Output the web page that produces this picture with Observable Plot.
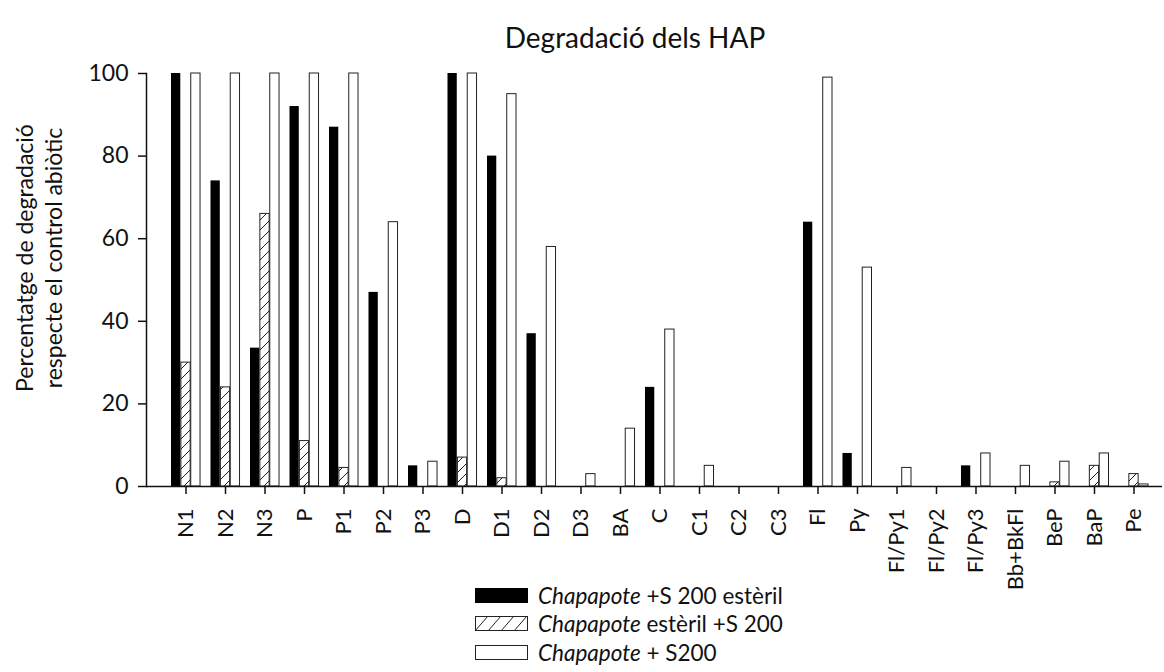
<!DOCTYPE html>
<html><head><meta charset="utf-8">
<script src="https://cdn.jsdelivr.net/npm/d3@7"></script>
<script src="https://cdn.jsdelivr.net/npm/@observablehq/plot@0.6"></script>
<style>
body{margin:0;background:#fff;font-family:Lato,sans-serif;color:#111}
#wrap{position:relative;width:1164px;height:672px;overflow:hidden}
#title{position:absolute;top:20px;left:0;width:1270px;text-align:center;font-size:28px;line-height:34px}
#chart{position:absolute;left:0;top:0}
#legend{position:absolute;left:475px;top:581px;font-size:22.5px}
.row{display:flex;align-items:center;height:28.5px;white-space:nowrap}
.row svg{margin-right:10px;display:block}
</style></head><body>
<div id="wrap"><div id="chart"></div><div id="title">Degradació dels HAP</div><div id="legend"></div></div>
<script>
// Categories (x axis)
const categories = ["N1","N2","N3","P","P1","P2","P3","D","D1","D2","D3","BA","C","C1","C2","C3","Fl","Py","Fl/Py1","Fl/Py2","Fl/Py3","Bb+BkFl","BeP","BaP","Pe"];
// Series names (legend)
const seriesNames = ["Chapapote +S 200 estèril", "Chapapote estèril +S 200", "Chapapote + S200"];
// Series values (% degradation)
const chapS200Esteril = [100,74,33.5,92,87,47,5,100,80,37,0,0,24,0,0,0,64,8,0,0,5,0,0,0,0];
const chapEsterilS200 = [30,24,66,11,4.5,0,0,7,2,0,0,0,0,0,0,0,0,0,0,0,0,0,1,5,3];
const chapS200 = [100,100,100,100,100,64,6,100,95,58,3,14,38,5,0,0,99,53,4.5,0,8,5,6,8,0.5];
const yTicks = [0,20,40,60,80,100];
const yLabel = "Percentatge de degradació\nrespecte el control abiòtic";

const seriesValues = [chapS200Esteril, chapEsterilS200, chapS200];
const rows = [];
categories.forEach((c, i) => seriesValues.forEach((vals, s) => rows.push({cat: c, s, key: c + "::" + s, v: vals[i]})));
const xDomain = categories.flatMap((c, i) => (i ? [c + "::gap"] : []).concat([c + "::0", c + "::1", c + "::2"]));

const svg = Plot.plot({
  width: 1164, height: 672,
  marginTop: 73, marginBottom: 186, marginLeft: 146, marginRight: 2,
  style: {fontFamily: "Lato, sans-serif", fontSize: "22px", color: "#111", background: "transparent"},
  x: {type: "band", domain: xDomain, paddingInner: 0.06, paddingOuter: 0, insetLeft: 25, insetRight: 14},
  y: {domain: [0, 100]},
  marks: [
    Plot.barY(rows.filter(d => d.s === 0 && d.v > 0), {x: "key", y: "v", fill: "black"}),
    Plot.barY(rows.filter(d => d.s === 1 && d.v > 0), {x: "key", y: "v", fill: "url(#hatch)", stroke: "#222", strokeWidth: 1}),
    Plot.barY(rows.filter(d => d.s === 2 && d.v > 0), {x: "key", y: "v", fill: "white", stroke: "#222", strokeWidth: 1}),
    Plot.ruleY([0], {stroke: "#111", strokeWidth: 1.5}),
    Plot.frame({anchor: "left", stroke: "#111", strokeWidth: 1.5}),
    Plot.axisY({ticks: yTicks, tickSize: 8, tickPadding: 10, fontSize: 23, label: null, stroke: "#111", strokeWidth: 1.5}),
    Plot.axisX({ticks: categories.map(c => c + "::1"), tickFormat: d => d.split("::")[0], tickSize: 8, tickPadding: 14, tickRotate: -90, fontSize: 22, label: null, stroke: "#111", strokeWidth: 1.5}),
    Plot.text([yLabel], {text: d => d, frameAnchor: "left", rotate: -90, dx: -108, dy: -22, fontSize: 23, lineHeight: 1.25, lineAnchor: "middle", textAnchor: "middle", fill: "#111"})
  ]
});
d3.select(svg).insert("defs", ":first-child").html(
  '<pattern id="hatch" patternUnits="userSpaceOnUse" width="10" height="10">' +
  '<path d="M0,10L10,0M-2,2L2,-2M8,12L12,8" stroke="#222" stroke-width="1" fill="none"/></pattern>');
document.getElementById("chart").appendChild(svg);

// Legend
const swatches = [
  '<rect x="0.5" y="0.5" width="52" height="14" fill="black" stroke="black"/>',
  '<defs><pattern id="hatchL" patternUnits="userSpaceOnUse" width="13" height="15"><path d="M0,15L13,0M-2,2L2,-2M11,17L15,13" stroke="#222" stroke-width="1" fill="none"/></pattern></defs><rect x="0.5" y="0.5" width="52" height="14" fill="url(#hatchL)" stroke="#222"/>',
  '<rect x="0.5" y="0.5" width="52" height="14" fill="white" stroke="#222"/>'
];
const legend = d3.select("#legend");
seriesNames.forEach((name, i) => {
  const row = legend.append("div").attr("class", "row");
  row.append("svg").attr("width", 53).attr("height", 15).html(swatches[i]);
  const span = row.append("span");
  span.append("i").text("Chapapote");
  span.append("span").text(name.slice("Chapapote".length));
});
</script>
</body></html>
